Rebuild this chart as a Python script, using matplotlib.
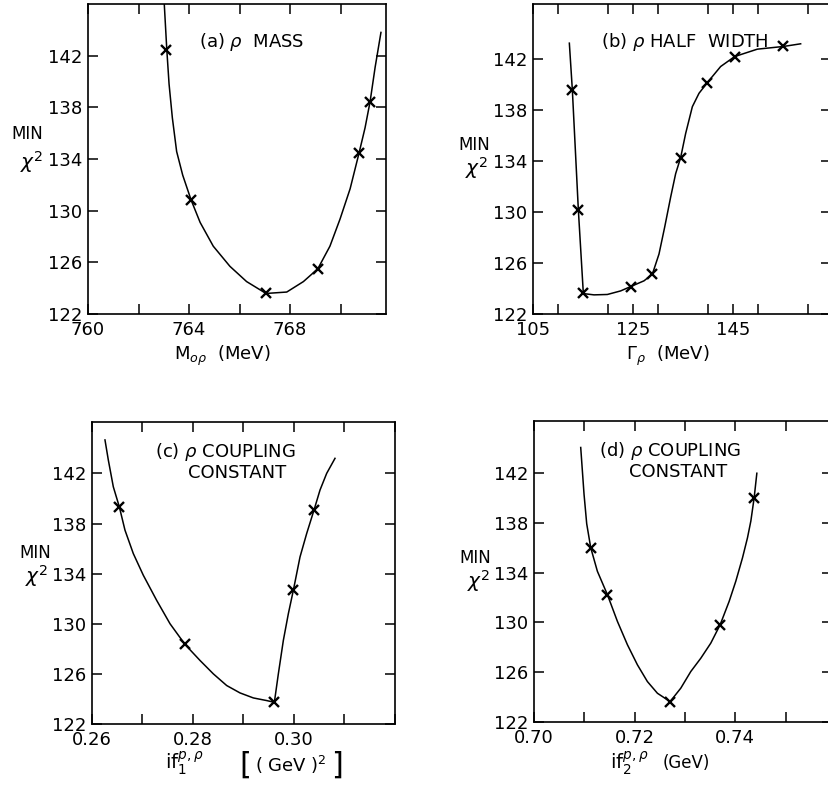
import matplotlib
matplotlib.use("Agg")
import matplotlib.pyplot as plt
from matplotlib.ticker import MultipleLocator

plt.rcParams['font.family'] = ['DejaVu Sans']
plt.rcParams['mathtext.fontset'] = 'dejavusans'

W, H = 829, 788

# ---------------- data ----------------
# (a) rho mass
a_pts_x = [763.1, 764.08, 767.05, 769.1, 770.73, 771.17]
a_pts_y = [142.47, 130.84, 123.59, 125.5, 134.44, 138.44]
a_curve_x = [763.02, 763.12, 763.21, 763.34, 763.51, 763.75, 764.08, 764.44, 764.96,
             765.62, 766.28, 767.05, 767.87, 768.53, 769.10, 769.58, 769.98, 770.38,
             770.73, 770.97, 771.17, 771.37, 771.60]
a_curve_y = [146.0, 142.47, 139.80, 137.19, 134.58, 132.75, 130.84, 129.09, 127.25,
             125.69, 124.51, 123.59, 123.70, 124.51, 125.50, 127.25, 129.35, 131.70,
             134.44, 136.41, 138.44, 141.11, 143.80]

# (b) rho half width
b_pts_x = [112.87, 114.07, 115.07, 124.53, 128.87, 134.53, 139.87, 145.33, 155.07]
b_pts_y = [139.56, 130.16, 123.65, 124.15, 125.12, 134.26, 140.14, 142.18, 142.97]
b_curve_x = [112.27, 112.87, 114.07, 115.07, 117.2, 119.87, 122.53, 124.53, 127.2,
             128.87, 130.2, 131.33, 132.53, 133.53, 134.53, 135.53, 136.87, 138.2,
             139.87, 142.53, 145.33, 149.87, 155.07, 158.53]
b_curve_y = [143.23, 139.56, 130.16, 123.6, 123.5, 123.53, 123.81, 124.15, 124.6,
             125.12, 126.7, 128.8, 131.16, 133.0, 134.26, 136.15, 138.25, 139.3,
             140.14, 141.4, 142.18, 142.76, 142.97, 143.18]

# (c) rho coupling constant f1
c_pts_x = [0.2654, 0.2784, 0.2961, 0.2999, 0.3040]
c_pts_y = [139.33, 128.35, 123.73, 132.67, 139.07]
c_curve_x = [0.26257, 0.26323, 0.26422, 0.26541, 0.26653, 0.26818, 0.27016, 0.2728,
             0.27545, 0.27842, 0.28139, 0.28403, 0.28667, 0.28931, 0.29195, 0.29459,
             0.29611, 0.2969, 0.29789, 0.29888, 0.29987, 0.30119, 0.30251, 0.30396,
             0.30515, 0.30647, 0.30812]
c_curve_y = [144.67, 143.07, 140.93, 139.33, 137.47, 135.6, 133.87, 131.87,
             130.0, 128.35, 127.07, 126.0, 125.07, 124.48, 124.08, 123.87,
             123.73, 126.0, 128.67, 130.8, 132.67, 135.33, 137.2, 139.07,
             140.67, 142.0, 143.2]

# (d) rho coupling constant f2
d_pts_x = [0.7113, 0.7146, 0.7270, 0.7370, 0.7437]
d_pts_y = [136.01, 132.24, 123.64, 129.82, 140.04]
d_curve_x = [0.70928, 0.70961, 0.70994, 0.71047, 0.71127, 0.71259, 0.71458, 0.71657,
             0.71856, 0.72054, 0.72253, 0.72452, 0.72704, 0.72916, 0.73115, 0.73314,
             0.73512, 0.73698, 0.73877, 0.74009, 0.74142, 0.74241, 0.74308, 0.74374,
             0.74427]
d_curve_y = [144.07, 142.19, 140.31, 137.94, 136.01, 134.12, 132.24, 130.09,
             128.21, 126.6, 125.25, 124.31, 123.64, 124.72, 126.06, 127.13,
             128.34, 129.82, 131.7, 133.32, 135.2, 136.81, 138.16, 140.04,
             142.0]

y_ticks = [122, 126, 130, 134, 138, 142]
a_xticks = [760, 764, 768]
b_xticks = [105, 125, 145]
c_xticks = [0.26, 0.28, 0.30]
d_xticks = [0.70, 0.72, 0.74]
a_xticklabels = ["760", "764", "768"]
b_xticklabels = ["105", "125", "145"]
c_xticklabels = ["0.26", "0.28", "0.30"]
d_xticklabels = ["0.70", "0.72", "0.74"]

# ---------------- figure ----------------
fig = plt.figure(figsize=(W / 100, H / 100), dpi=100)


def add_ax(left, top, right, bottom):
    return fig.add_axes([left / W, 1 - bottom / H, (right - left) / W, (bottom - top) / H])


def fx(px):
    return px / W


def fy(py):
    return 1 - py / H


panels = [
    dict(box=(88, 4, 386, 314), xlim=(760, 771.8), ylim=(122, 146.0),
         xt=a_xticks, xtl=a_xticklabels, minor=2,
         cx=a_curve_x, cy=a_curve_y, px=a_pts_x, py=a_pts_y),
    dict(box=(533, 4, 831, 314), xlim=(105, 164.6), ylim=(122, 146.3),
         xt=b_xticks, xtl=b_xticklabels, minor=10,
         cx=b_curve_x, cy=b_curve_y, px=b_pts_x, py=b_pts_y),
    dict(box=(92, 422, 395, 724), xlim=(0.26, 0.32), ylim=(122, 146.1),
         xt=c_xticks, xtl=c_xticklabels, minor=0.01,
         cx=c_curve_x, cy=c_curve_y, px=c_pts_x, py=c_pts_y),
    dict(box=(534, 421, 832, 722), xlim=(0.70, 0.7592), ylim=(122, 146.2),
         xt=d_xticks, xtl=d_xticklabels, minor=0.01,
         cx=d_curve_x, cy=d_curve_y, px=d_pts_x, py=d_pts_y),
]

for p in panels:
    ax = add_ax(*p['box'])
    ax.plot(p['cx'], p['cy'], color='black', lw=1.1, solid_joinstyle='round', clip_on=True)
    ax.plot(p['px'], p['py'], linestyle='none', marker='x', color='black',
            markersize=6.5, markeredgewidth=1.7)
    ax.set_xlim(*p['xlim'])
    ax.set_ylim(*p['ylim'])
    ax.set_xticks(p['xt'])
    ax.set_xticklabels(p['xtl'])
    ax.xaxis.set_minor_locator(MultipleLocator(p['minor']))
    ax.set_yticks(y_ticks)
    ax.set_yticklabels([str(v) for v in y_ticks])
    ax.tick_params(which='both', direction='in', top=True, right=True,
                   length=7.5, width=1.1, color='black', labelsize=13)
    ax.tick_params(axis='x', which='both', pad=5)
    ax.tick_params(axis='y', which='both', pad=4)
    for s in ax.spines.values():
        s.set_linewidth(1.2)

# titles
fs_t = 13
fig.text(fx(252), fy(42), r"(a) $\rho$  MASS", ha='center', va='center', fontsize=fs_t)
fig.text(fx(685), fy(42), r"(b) $\rho$ HALF  WIDTH", ha='center', va='center', fontsize=fs_t)
fig.text(fx(225), fy(452), r"(c) $\rho$ COUPLING", ha='center', va='center', fontsize=fs_t)
fig.text(fx(237), fy(473), "CONSTANT", ha='center', va='center', fontsize=fs_t)
fig.text(fx(670), fy(451), r"(d) $\rho$ COUPLING", ha='center', va='center', fontsize=fs_t)
fig.text(fx(678), fy(472), "CONSTANT", ha='center', va='center', fontsize=fs_t)

# x labels
fs_x = 13
fig.text(fx(222), fy(356), r"M$_{o\rho}$  (MeV)", ha='center', va='center', fontsize=fs_x)
fig.text(fx(668), fy(356), r"$\Gamma_{\rho}$  (MeV)", ha='center', va='center', fontsize=fs_x)
fig.text(fx(184), fy(763), r"if$_{1}^{p,\rho}$", ha='center', va='center', fontsize=fs_x + 1)
fig.text(fx(245), fy(765), "[", ha='center', va='center', fontsize=22)
fig.text(fx(291), fy(765), r"( GeV )$^{2}$", ha='center', va='center', fontsize=13)
fig.text(fx(337), fy(765), "]", ha='center', va='center', fontsize=22)
fig.text(fx(629), fy(763), r"if$_{2}^{p,\rho}$", ha='center', va='center', fontsize=fs_x + 1)
fig.text(fx(686), fy(763), "(GeV)", ha='center', va='center', fontsize=fs_x - 1)

# y labels
ylab = [((27, 134), (32, 162)), ((474, 145), (477, 168)),
        ((35, 553), (37, 576)), ((475, 558), (479, 581))]
for (mx, my), (cx, cy) in ylab:
    fig.text(fx(mx), fy(my), "MIN", ha='center', va='center', fontsize=12)
    fig.text(fx(cx), fy(cy), r"$\chi^{2}$", ha='center', va='center', fontsize=14.5)

fig.savefig("out.png", dpi=100)
